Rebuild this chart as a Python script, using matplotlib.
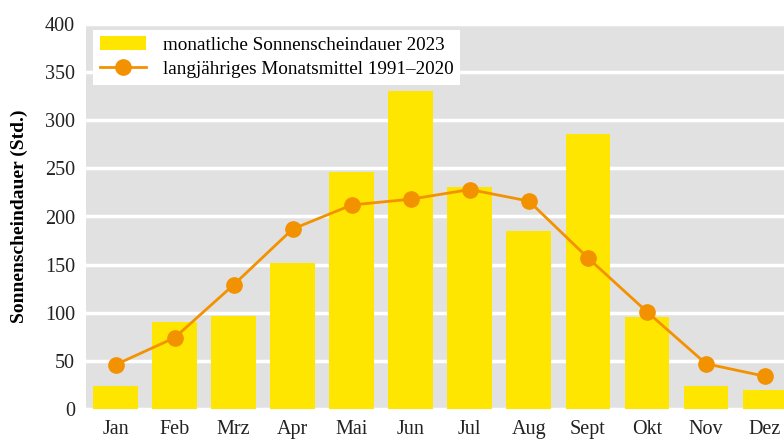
import numpy as np
import matplotlib
matplotlib.use("Agg")
import matplotlib.pyplot as plt

# data
months = ["Jan", "Feb", "Mrz", "Apr", "Mai", "Jun", "Jul", "Aug", "Sept", "Okt", "Nov", "Dez"]
sonne_2023 = [24, 90, 97, 152, 246, 330, 231, 185, 286, 96, 24, 20]
mittel_1991_2020 = [46, 74, 129, 187, 212, 218, 228, 216, 157, 101, 47, 34]

plt.rcParams['font.family'] = ['Liberation Serif', 'DejaVu Serif']

fig = plt.figure(figsize=(7.84, 4.4), dpi=100)
ax = fig.add_axes([86/784, 1 - 409/440, 1 - 86/784, 385/440])

x = np.arange(len(months))
ax.set_facecolor("#e1e1e1")
bars = ax.bar(x, sonne_2023, width=0.76, color="#ffe600", zorder=3,
              label="monatliche Sonnenscheindauer 2023")
line, = ax.plot(x, mittel_1991_2020, color="#f39200", lw=2, marker="o", ms=11, zorder=4,
                label="langjähriges Monatsmittel 1991–2020")

ax.set_ylim(0, 400)
ax.set_xlim(-0.5, 11.32)
ax.set_yticks(range(0, 401, 50))
ax.set_xticks(x)
ax.set_xticklabels(months)
ax.grid(axis="y", color="white", lw=2.5, zorder=1)
ax.set_axisbelow(True)
for s in ax.spines.values():
    s.set_visible(False)
ax.tick_params(length=0, labelsize=14.5, colors="#222222")
ax.tick_params(axis="y", pad=8)
ax.tick_params(axis="x", pad=8)
ax.set_ylabel("Sonnenscheindauer (Std.)", fontsize=14, fontweight="bold", labelpad=12)

leg = ax.legend([bars, line], [bars.get_label(), line.get_label()],
                loc="upper left", bbox_to_anchor=(0.01, 0.985), fontsize=13.8, frameon=True,
                fancybox=False, framealpha=1, edgecolor="white", borderpad=0.35,
                handlelength=2.4, handletextpad=0.9, labelspacing=0.35, borderaxespad=0)
leg.get_frame().set_linewidth(0)

fig.savefig("out.png", dpi=100)
